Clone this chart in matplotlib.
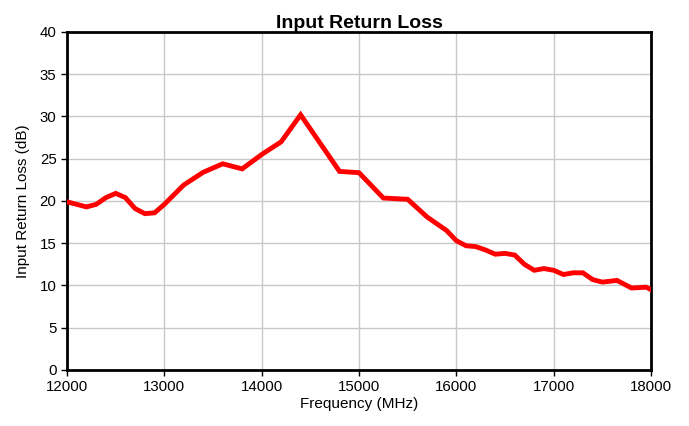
import matplotlib
matplotlib.use("Agg")
import matplotlib.pyplot as plt

plt.rcParams['font.family'] = ['Liberation Sans', 'DejaVu Sans']

freq = [12000, 12200, 12300, 12400, 12500, 12600, 12700, 12800, 12900, 13000,
        13200, 13400, 13600, 13800, 14000, 14200, 14400, 14800, 15000, 15250,
        15500, 15700, 15900, 16000, 16100, 16200, 16300, 16400, 16500, 16600,
        16700, 16800, 16900, 17000, 17100, 17200, 17300, 17400, 17500, 17650,
        17800, 17950, 18000]
loss = [19.9, 19.3, 19.6, 20.4, 20.9, 20.4, 19.1, 18.5, 18.6, 19.6,
        21.9, 23.4, 24.4, 23.8, 25.5, 27.0, 30.2, 23.5, 23.35, 20.35,
        20.2, 18.1, 16.5, 15.3, 14.7, 14.6, 14.2, 13.7, 13.8, 13.6,
        12.5, 11.8, 12.0, 11.8, 11.3, 11.5, 11.5, 10.7, 10.4, 10.6,
        9.7, 9.8, 9.5]

fig = plt.figure(figsize=(6.89, 4.26), dpi=100)
ax = fig.add_axes([0.0972, 0.1315, 0.8477, 0.7934])

ax.plot(freq, loss, color='#ff0000', linewidth=3.5, solid_joinstyle='miter', zorder=3)

ax.set_xlim(12000, 18000)
ax.set_ylim(0, 40)
ax.set_xticks(range(12000, 18001, 1000))
ax.set_yticks(range(0, 41, 5))
ax.grid(True, color='#c8c8c8', linewidth=1)
ax.tick_params(direction='out', length=4, width=1, labelsize=10.8, colors='black')
for s in ax.spines.values():
    s.set_linewidth(2)
    s.set_color('black')

ax.set_title('Input Return Loss', fontsize=14, fontweight='bold', pad=2)
ax.set_xlabel('Frequency (MHz)', fontsize=11, labelpad=2)
ax.set_ylabel('Input Return Loss (dB)', fontsize=11, labelpad=7)

fig.savefig('out.png', dpi=100)
